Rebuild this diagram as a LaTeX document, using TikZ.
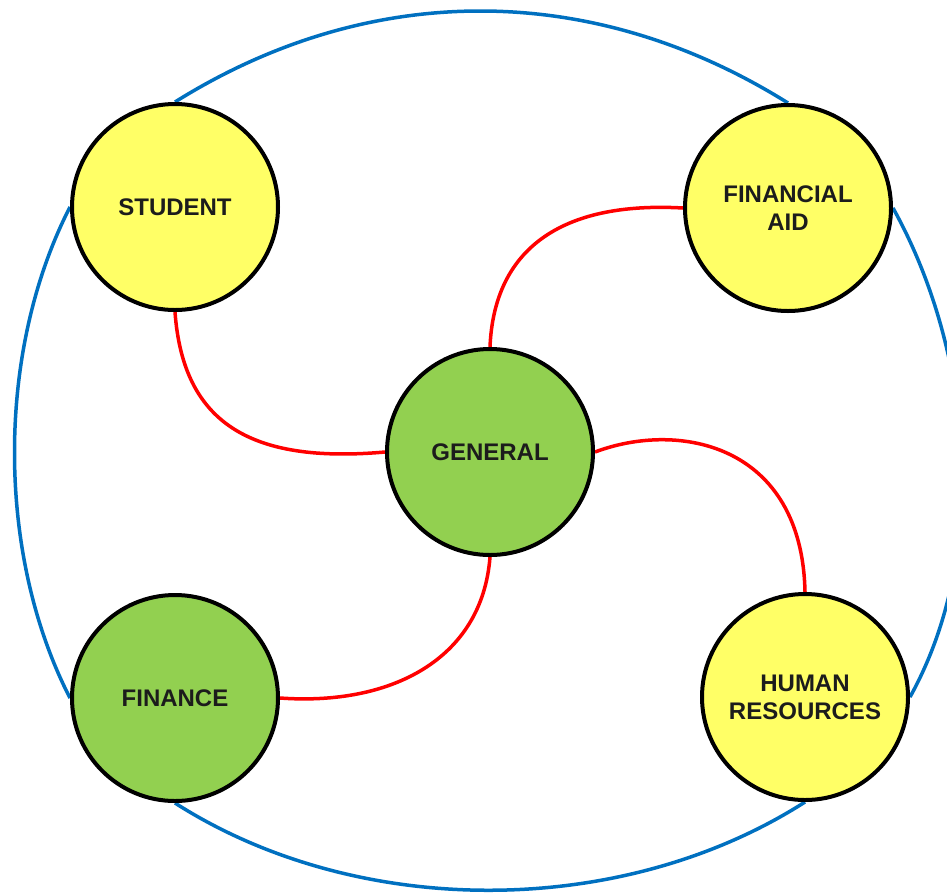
\documentclass[tikz,border=0pt]{standalone}
\usepackage{fontspec}
\setmainfont{Liberation Sans}
\usetikzlibrary{backgrounds}
\definecolor{bubbleyellow}{HTML}{FFFF66}
\definecolor{bubblegreen}{HTML}{92D050}
\definecolor{ringblue}{HTML}{0070C0}
\definecolor{linkred}{HTML}{FF0000}
\definecolor{textdark}{HTML}{1C1C1C}
\begin{document}
\begin{tikzpicture}[x=1pt,y=-1pt,
  bubble/.style={circle, draw=black, line width=4pt, minimum size=206pt, inner sep=0pt,
    align=center, font=\bfseries\fontsize{24}{28}\selectfont, text=textdark},
  yel/.style={bubble, fill=bubbleyellow},
  grn/.style={bubble, fill=bubblegreen},
  ring/.style={draw=ringblue, line width=3.5pt},
  link/.style={draw=linkred, line width=3.5pt}]
\useasboundingbox (0,0) rectangle (947,895);

\node[yel] (S)   at (175,207) {STUDENT};
\node[yel] (FA)  at (788,208) {FINANCIAL\\AID};
\node[grn] (G)   at (490,452) {GENERAL};
\node[grn] (FIN) at (175,698) {FINANCE};
\node[yel] (HR)  at (805,697) {HUMAN\\RESOURCES};

\begin{pgfonlayer}{background}
\fill[white] (0,0) rectangle (947,895);
\begin{scope}
\clip (0,0) rectangle (947,895);
% outer ring
\draw[ring] (S.north) .. controls +(195,-122) and +(-195,-122) .. (FA.north);
\draw[ring] (FA.east) .. controls +(80,144) and +(80,-144) .. (HR.east);
\draw[ring] (HR.south) .. controls +(-183,117) and +(183,117) .. (FIN.south);
\draw[ring] (FIN.west) .. controls +(-74,-144) and +(-74,144) .. (S.west);
% links
\draw[link] (S.south) .. controls +(8,110) and +(-136,12) .. (G.west);
\draw[link] (G.north) .. controls +(4,-97) and +(-123,-7) .. (FA.west);
\draw[link] (G.east) .. controls +(85,-32) and +(-3,-147) .. (HR.north);
\draw[link] (G.south) .. controls +(-8,103) and +(110,8) .. (FIN.east);
\end{scope}
\end{pgfonlayer}
\end{tikzpicture}
\end{document}
